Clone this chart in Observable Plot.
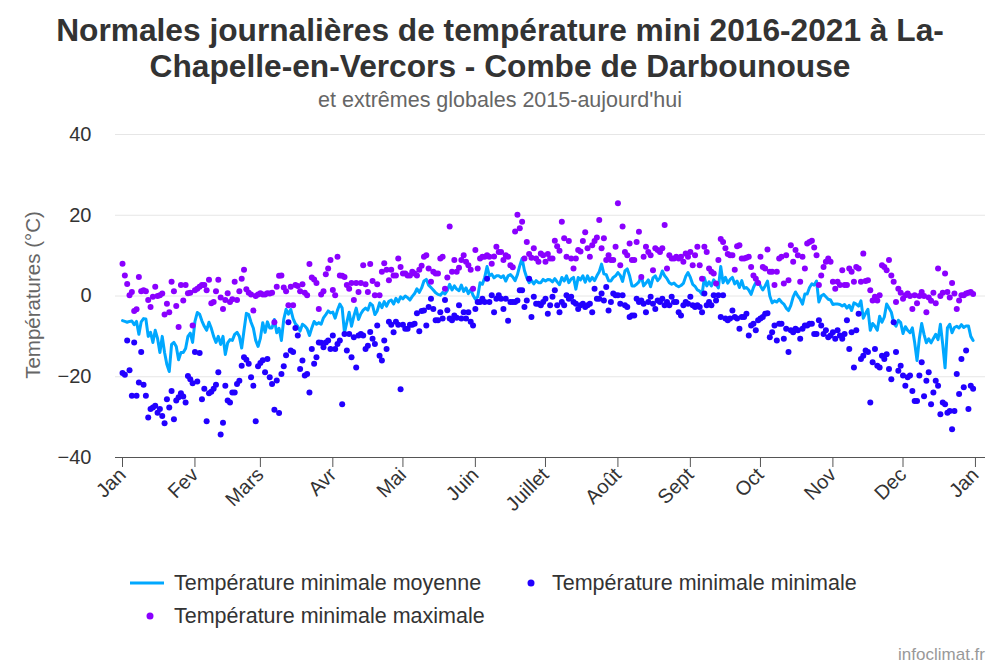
<!DOCTYPE html>
<html>
<head>
<meta charset="utf-8">
<script src="https://cdn.jsdelivr.net/npm/d3@7"></script>
<script src="https://cdn.jsdelivr.net/npm/@observablehq/plot@0.6"></script>
<style>
  html, body { margin: 0; padding: 0; background: #fff; }
  #wrap { position: relative; width: 1000px; height: 666px; background: #fff; font-family: "Liberation Sans", Arial, sans-serif; overflow: hidden; }
  #title { position: absolute; top: 12px; left: 0; width: 1000px; text-align: center; font-weight: bold; font-size: 31.7px; line-height: 36px; color: #333; }
  #subtitle { position: absolute; top: 88px; left: 0; width: 1000px; text-align: center; font-size: 21.5px; line-height: 24px; color: #666; }
  #chart { position: absolute; top: 120px; left: 0; }
  .leg { position: absolute; font-size: 21.5px; line-height: 24px; color: #333; white-space: nowrap; }
  .sym { position: absolute; }
  #credit { position: absolute; right: 15px; top: 645px; font-size: 17px; line-height: 20px; color: #999; }
</style>
</head>
<body>
<div id="wrap">
  <div id="title">Normales journalières de température mini 2016-2021 à La-<br>Chapelle-en-Vercors - Combe de Darbounouse</div>
  <div id="subtitle">et extrêmes globales 2015-aujourd'hui</div>
  <div id="chart"></div>
  <svg class="sym" style="left:128px;top:573px" width="40" height="20"><line x1="2" y1="10" x2="36" y2="10" stroke="#00a8ff" stroke-width="3"/></svg>
  <div class="leg" style="left:174px;top:571px">Température minimale moyenne</div>
  <svg class="sym" style="left:521px;top:573px" width="20" height="20"><circle cx="10" cy="10" r="3.5" fill="#2200ff"/></svg>
  <div class="leg" style="left:552px;top:571px">Température minimale minimale</div>
  <svg class="sym" style="left:140px;top:606px" width="20" height="20"><circle cx="10" cy="10" r="3.5" fill="#8a00ff"/></svg>
  <div class="leg" style="left:174px;top:604px">Température minimale maximale</div>
  <div id="credit">infoclimat.fr</div>
</div>
<script>
// Month tick positions (day of year) and labels
const monthStarts = [0, 31, 59, 90, 120, 151, 181, 212, 243, 273, 304, 334, 365];
const monthLabels = ["Jan", "Fev", "Mars", "Avr", "Mai", "Juin", "Juillet", "Août", "Sept", "Oct", "Nov", "Dec", "Jan"];
const yTicks = [-40, -20, 0, 20, 40];

// Température minimale moyenne (daily, °C)
const meanTemp = [
  -6.1,-6.3,-6.5,-6.3,-6.2,-7.1,-6.3,-9.5,-6.4,-5.6,-5.7,-10,-9,-11.5,-8.5,-10.5,-14,-10,-14,-17,
  -18.7,-12,-11.5,-12.5,-15.8,-14,-14,-13,-10,-9.2,-11.5,-6.3,-4.1,-4.5,-6.2,
  -7.5,-8.5,-6.5,-8,-10,-11.5,-10,-12,-10,-14.5,-11.6,-10.8,-11,-9.5,-9,-10,-12.9,-8.5,-4.3,-4.6,
  -6.5,-8,-11,-12.5,-10.5,-6.6,-9,-6.4,-7.9,-7.9,-5.8,-9.1,-8,-11,-5.8,-3.3,-4.5,
  -3.3,-5.6,-6.9,-7.5,-8.7,-7,-7.4,-8.1,-9.8,-7.9,-6.3,-7,-6.6,-7,-5.4,-4.6,-3.7,-4.2,-4,-5.5,
  -3.5,-2,-3,-9.1,-6.5,-4,-7.5,-5,-3,-5.8,-4.4,-3.5,-3,-3.5,-1.8,-2.3,-4.6,
  -3.7,-1.7,-2.9,-1.4,-2.5,-1.3,-1,-2,-0.6,-1.5,-0.2,-0.7,0,-0.4,-1,-0.1,0.6,1.8,0.9,2,
  3.7,4.1,2.7,2.1,1.5,0.8,0.4,0.2,0.9,0.5,1.4,2.9,1.5,2.5,1.7,1.3,2.7,
  1.1,2,0.6,1.6,0.2,-0.8,-0.2,3.3,2.9,4.6,7.3,5,5.4,4.5,5,5,4.6,5,3.7,5,
  5.3,4.7,3.8,5.3,7.5,9.3,6.3,4.5,3.3,3.9,3,3.8,3.3,3.3,4.1,3.7,
  4.1,4,3.5,4.3,3.5,2.8,4.6,3.7,5,3.3,4.2,4.6,1.7,4.6,4,5,3.4,5,3.7,4.6,
  3.8,5,6,7.9,5.5,5.3,3.8,3.7,4.6,5,5.8,5.1,3.6,6.2,6.7,5,2.5,
  2.5,2.9,3.5,5,2.5,3.2,4,2.3,4.5,5,3.8,4.5,6.2,5,4.3,3.3,2.9,3.2,2.6,2.3,
  2.6,3.1,4.8,5.8,4.6,2.9,2.4,1.5,1.2,0.4,4.5,2.5,3.5,2.5,4,3,2,
  7.3,3.3,4.6,3.2,4.1,4.6,3,3.7,2.1,3.8,1.9,2.1,1.5,0.4,2.1,3.3,3.7,2.5,1.5,2.5,
  3.7,0,-1.7,-1.2,-1.5,-0.8,-1.5,-2,-3,-3.6,-2.3,-0.2,1,0,-0.8,-2,0.5,
  0.5,2.1,3,2.7,3.7,-1.5,0,0.4,-0.2,-0.8,-1,-2.1,-2,-2,-2.1,-2.5,-2.1,-3,-2.3,-3.6,
  -1.7,-2,-2.5,-1.2,-5.5,-4.3,-3.3,-8.5,-6.8,-7.5,-8.5,-5,-6.5,-5.2,-2,-3,-4,
  -6.6,-7.5,-6,-6.6,-9.3,-7.6,-8.5,-9.1,-7.9,-11.6,-16,-10.5,-6.8,-9.5,-11.6,-10.6,-11.6,-10.5,-9.5,-10.8,
  -7,-12,-17.8,-7.9,-7,-9.1,-7.8,-7.5,-7.9,-7.1,-7.8,-7.4,-7.4,-10,-11
];

// Température minimale minimale (daily, °C)
const minTemp = [
  -19.1,-19.5,-11.0,-18.4,-24.7,-11.5,-24.7,-21.4,-13.9,-22,-24.7,-30.1,-28,-27.6,-27.2,-28.9,-28,-29.7,-31.5,-25.6,
  -27.6,-23.5,-30.5,-25.9,-25.1,-24.1,-24.9,-26.4,-19.8,-20.6,-21.6,-13.9,-21.2,-14.1,-25.6,
  -23.0,-31.0,-24.1,-23.7,-23.0,-22.0,-18.9,-34.3,-31.4,-22.2,-25.9,-26.4,-23.9,-23.9,-21.8,-21.0,-17.3,-15.2,-15.8,-16.8,
  -20.1,-22.2,-31.0,-17.4,-16.6,-15.9,-18.9,-15.6,-20.1,-21.8,-28.2,-20.9,-29.0,-19.3,-17.4,-14.7,-6.5,
  -13.5,-13.9,-7.9,-9.8,-18.1,-16.0,-19.7,-19.3,-23.9,-13.1,-16.8,-15.2,-11.5,-11.6,-12.7,-11.5,-11.0,-13.1,-9.8,-13.1,
  -11.9,-11.0,-26.8,-9.4,-13.5,-9.4,-15.2,-10.2,-17.7,-9.8,-9.4,-9.8,-13.1,-12.3,-8.9,-10.6,-11.9,
  -7.3,-14.8,-16.0,-11.0,-13.1,-6.4,-7.1,-9.0,-6.4,-7.1,-23.1,-7.1,-8.1,-8.1,-7.1,-7.1,-6.9,-4.3,-8.7,-3.7,
  -3.6,-7.3,-2.7,-0.7,-3.2,-6.0,-6.0,-4.0,-5.6,-1.0,-3.5,-5.6,-6.0,-4.8,-5.4,-2.3,-5.6,
  -4.0,-5.6,-4.0,-6.4,-7.3,-3.2,-1.5,-1.5,-0.7,-1.5,4.3,-1.5,0.2,-4.0,-0.7,0.2,-0.7,-3.2,-0.7,-6.1,
  -1.5,-1.5,-1.5,-1.1,1.4,1.4,-2.7,-1.1,4.3,-5.2,-0.2,-1.9,-1.9,-2.3,-1.5,-0.7,
  -4.4,-2.3,-0.2,1.4,-2.3,-4.0,-1.5,-2.3,0.2,-0.7,-0.2,-1.5,-1.9,-3.2,-2.3,-1.9,-2.7,-2.3,-1.9,-4.0,
  1.8,-0.7,-0.7,0.6,-1.1,2.2,-3.6,-1.5,0.6,0.2,0.2,-1.9,0.2,-2.3,-2.7,-5.2,-4.8,
  -4.8,-0.7,-1.5,-1.1,-1.9,-4.0,-1.5,-0.2,-1.9,-3.2,-1.1,-1.5,-0.7,-2.3,-1.5,-2.3,-0.2,-1.5,-1.5,-4.0,
  -4.8,-2.3,-1.5,-1.9,-0.2,-2.3,-2.7,-2.3,-2.7,-4.0,0.6,-2.3,-1.5,-2.3,0.2,-1.1,0.2,
  -5.2,0.2,-5.6,-6.0,-5.6,-3.6,-5.2,-5.6,-8.1,-5.2,-5.2,-4.4,-9.8,-7.3,-6.9,-8.5,-6.0,-5.6,-5.2,-4.4,
  -4.3,-10.2,-9.0,-7.3,-11.0,-6.9,-6.9,-10.6,-8.1,-13.9,-8.5,-9.0,-8.1,-8.5,-10.6,-8.1,-7.3,
  -7.3,-6.9,-6.9,-9.4,-9.4,-6.0,-7.3,-9.4,-8.5,-10.2,-9.8,-9.0,-10.6,-8.5,-9.8,-10.6,-9.4,-6.0,-13.1,-9.0,
  -17.7,-8.5,-4.4,-15.6,-14.8,-13.5,-13.9,-26.4,-16.4,-13.1,-17.3,-17.7,-14.8,-15.6,-14.4,-18.1,-20.6,
  -6.5,-13.9,-18.5,-17.3,-19.7,-22.2,-20.1,-19.7,-23.5,-26.0,-26.0,-19.7,-16.4,-24.8,-21.0,-18.9,-26.8,-23.9,-21.0,-22.2,
  -29.3,-26.4,-26.8,-28.9,-28.5,-33.0,-28.5,-19.3,-24.3,-15.6,-22.6,-13.5,-28.0,-22.2,-23.0
];

// Température minimale maximale (daily, °C)
const maxTemp = [
  8.0,5.1,3.0,0.2,1.0,-3.7,-3.3,4.7,1.2,1.4,1.2,-1.0,-2.7,-0.2,2.3,0,0.2,0.6,-4.6,-1.9,
  -4.0,3.5,1.2,-2.5,-7.7,2.7,-1.1,2.7,0.7,0.8,-7.3,1.4,1.8,2.3,2.7,
  2.7,1.4,4.0,-1.8,-1.5,1.2,4.0,-0.4,-3.2,-1.0,0.7,-1.5,-0.8,3.5,-1.0,1.2,4.3,6.5,1.7,0.8,
  0.4,-3.6,0,0.4,0.7,0.4,0.4,0.7,0.6,0.8,-6.5,2.3,5.0,5.1,2.1,1.2,-2.3,
  2.3,-2.3,2.7,2.5,1.2,2.9,0.8,0.2,7.9,4.6,4.1,3.2,-3.2,0.4,1.2,5.4,6.8,8.9,1.5,0.2,
  9.7,5.1,5.0,4.7,2.7,1.8,3.2,-1.0,3.2,1.0,3.2,7.6,2.9,1.0,7.9,3.7,0.2,
  2.9,0.2,6.0,8.1,6.5,3.9,6.5,5.1,5.1,9.3,7.2,5.6,5.6,5.1,5.1,6.0,5.6,5.1,6.5,7.5,
  9.7,10.1,6.8,3.5,6.0,5.6,5.6,9.3,9.7,1.8,4.6,17.2,6.0,8.9,6.0,7.0,8.9,
  10.1,8.5,7.6,6.5,1.8,11.4,6.8,9.3,9.7,9.7,10.1,9.7,8.0,9.8,12.2,10.9,10.9,8.9,10.1,9.7,
  7.6,7.1,16.0,20.1,16.8,18.4,9.3,13.4,10.4,9.5,11.8,9.3,8.5,10.5,10.1,8.5,
  10.4,9.3,9.3,13.7,12.3,11.2,18.4,14.3,9.7,13.6,9.3,6.8,9.3,11.4,11.0,13.6,15.8,11.8,9.7,12.6,
  13.6,14.5,18.8,11.8,14.3,8.9,10.1,8.9,8.9,12.2,23.0,7.6,17.2,10.9,10.1,13.0,8.9,
  8.9,13.4,15.9,4.7,9.7,12.2,10.9,10.1,6.4,11.8,11.4,10.9,11.8,17.6,6.8,10.1,9.3,9.3,9.7,9.3,
  9.7,8.5,10.5,9.7,10.9,7.6,10.1,12.2,7.6,4.3,12.2,10.9,6.8,6.0,5.6,3.1,8.9,
  14.1,13.4,11.8,10.4,10.1,10.1,6.5,12.3,12.6,9.3,9.3,9.5,9.7,7.2,5.1,4.3,3.2,9.7,7.2,6.8,
  11.5,6.0,6.0,2.7,6.0,9.3,9.7,3.1,10.1,3.9,12.6,8.5,11.4,10.1,3.5,9.7,6.8,
  13.0,13.4,13.7,12.0,10.1,2.7,5.1,7.2,8.5,9.3,8.5,3.5,1.8,3.5,2.7,6.4,2.7,2.7,6.8,6.0,
  3.5,7.2,6.8,3.5,10.5,3.7,3.9,1.4,-1.1,-0.2,-1.1,0.2,7.6,7.2,6.4,8.9,5.1,
  3.5,-1.5,1.8,0.8,-0.7,0.2,0.6,0,-3.2,0.2,-1.8,0,1.0,0,-4.0,-0.4,-1.2,0.8,-1.8,6.8,
  0,0.8,5.6,1.0,-0.4,3.2,0.6,-3.2,-1.1,0.2,0.2,0.6,0.8,1.0,0.5
];

const meanData = meanTemp.map((v, i) => ({day: i, v}));
const minData = minTemp.map((v, i) => ({day: i, v}));
const maxData = maxTemp.map((v, i) => ({day: i, v}));

const labelOf = new Map(monthStarts.map((d, i) => [d, monthLabels[i]]));

const chart = Plot.plot({
  width: 1000,
  height: 400,
  marginLeft: 115,
  marginRight: 15,
  marginTop: 14,
  marginBottom: 63,
  style: {fontFamily: "'Liberation Sans', Arial, sans-serif", fontSize: "20px", color: "#333", background: "transparent"},
  x: {domain: [-3, 369.3]},
  y: {domain: [-40, 40]},
  marks: [
    Plot.gridY(yTicks.filter(d => d > -40), {stroke: "#e6e6e6", strokeOpacity: 1, strokeWidth: 1}),
    Plot.axisY({ticks: yTicks, tickSize: 0, tickPadding: 24, label: null, fill: "#333"}),
    Plot.ruleY([-40], {stroke: "#555", strokeWidth: 1}),
    Plot.axisX({ticks: monthStarts, tickFormat: d => labelOf.get(d), tickRotate: -45, tickSize: 10, tickPadding: 4, label: null, stroke: "#555", fill: "#333"}),
    Plot.line(meanData, {x: "day", y: "v", stroke: "#00a8ff", strokeWidth: 3, strokeLinejoin: "round"}),
    Plot.dot(minData, {x: "day", y: "v", r: 3, fill: "#2200ff", stroke: "none"}),
    Plot.dot(maxData, {x: "day", y: "v", r: 3, fill: "#8a00ff", stroke: "none"})
  ]
});

d3.select(chart).append("text")
  .attr("transform", "translate(33,175) rotate(-90)")
  .attr("text-anchor", "middle")
  .attr("dy", "0.35em")
  .attr("fill", "#666")
  .style("font-size", "20.5px")
  .text("Températures (°C)");

document.getElementById("chart").appendChild(chart);
</script>
</body>
</html>
